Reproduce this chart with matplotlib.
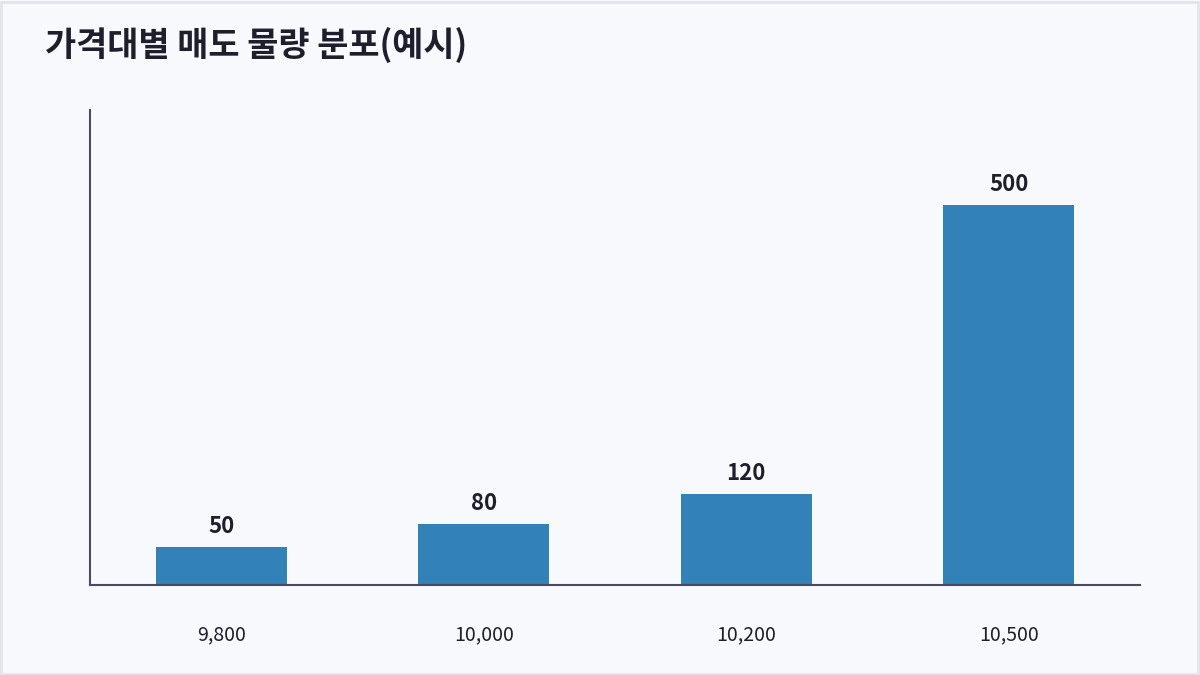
import matplotlib.pyplot as plt
from matplotlib.patches import Rectangle

plt.rcParams['font.family'] = ['Noto Sans CJK KR', 'DejaVu Sans']

prices = ['9,800', '10,000', '10,200', '10,500']
volumes = [50, 80, 120, 500]

bg = '#f8f9fd'
bar_color = '#3282b8'
axis_color = '#4a4a62'
text_color = '#1e1e2c'

fig = plt.figure(figsize=(12, 6.75), dpi=100, facecolor=bg)
fig.patches.append(Rectangle((0.001, 0.002), 0.997, 0.995, transform=fig.transFigure,
                             fill=False, edgecolor='#e1e4ea', linewidth=2))

ax = fig.add_axes([90 / 1200, 1 - 585 / 675, 1050 / 1200, 475 / 675])
ax.set_facecolor(bg)

x = range(len(prices))
bars = ax.bar(x, volumes, width=0.5, color=bar_color)
for b, v in zip(bars, volumes):
    ax.text(b.get_x() + b.get_width() / 2, v + 12, str(v), ha='center', va='bottom',
            fontsize=16, fontweight='bold', color=text_color)

ax.set_xlim(-0.5, 3.5)
ax.set_ylim(0, 625)
ax.set_xticks(list(x))
ax.set_xticklabels(prices, fontsize=14, fontweight='medium', color=text_color)
ax.tick_params(axis='x', length=0, pad=28)
ax.set_yticks([])

for s in ['top', 'right']:
    ax.spines[s].set_visible(False)
for s in ['left', 'bottom']:
    ax.spines[s].set_color(axis_color)
    ax.spines[s].set_linewidth(1.5)

fig.text(45 / 1200, 1 - 45 / 675, '가격대별 매도 물량 분포(예시)', fontsize=24.4, fontweight='bold',
         color=text_color, ha='left', va='center')

fig.savefig('out.png', dpi=100, facecolor=bg)
